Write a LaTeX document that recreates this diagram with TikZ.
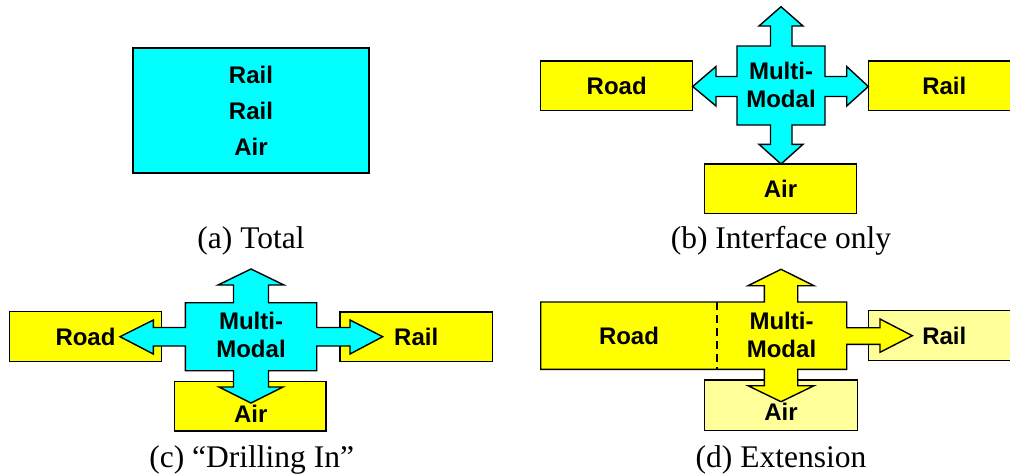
\documentclass[tikz,border=0pt]{standalone}
\usepackage{fontspec}
\setmainfont{Liberation Serif}
\setsansfont{Liberation Sans}
\usepackage{tikz}
\usetikzlibrary{positioning}

\definecolor{mmcyan}{RGB}{0,255,255}
\definecolor{mmyellow}{RGB}{255,255,0}
\definecolor{mmpale}{RGB}{255,255,153}

\tikzset{
    box/.style={draw, line width=1.4pt, inner sep=0pt, outer sep=0pt},
    blockarrow/.style={draw, line width=1.4pt, line join=miter},
    lbl/.style={font=\sffamily\bfseries\fontsize{24}{28}\selectfont, align=center, inner sep=0pt},
    capt/.style={font=\fontsize{31.5}{36}\selectfont, anchor=base, inner sep=0pt}
}

\begin{document}
\begin{tikzpicture}[x=1pt, y=-1pt]
    \useasboundingbox (0,0) rectangle (1010,475);
    \clip (0,0) rectangle (1010,475);

    % (a) total
    \node[box, fill=mmcyan, minimum width=236pt, minimum height=125pt, lbl,
          font=\sffamily\bfseries\fontsize{24}{36}\selectfont] (total) at (251,110.5) {Rail\\Rail\\Air};
    \node[capt] (capa) at (251,248) {(a) Total};

    % (b) interface only
    \node[box, fill=mmyellow, minimum width=152pt, minimum height=49.7pt] (roadb) at (616.7,85.9) {};
    \node[box, fill=mmyellow, minimum width=152pt, minimum height=49.7pt] (railb) at (944.3,85.9) {};
    \node[box, fill=mmyellow, minimum width=152.4pt, minimum height=49.3pt] (airb) at (780.5,188.7) {};
    \draw[blockarrow, fill=mmcyan] (737,46) -- (770.5,46) -- (770.5,26) -- (759,26) -- (781,6.7)
        -- (803,26) -- (792,26) -- (792,46) -- (825,46) -- (825,76.5) -- (846.7,76.5)
        -- (846.7,66.5) -- (868.3,86.5) -- (846.7,106) -- (846.7,96.5) -- (825,96.5)
        -- (825,125) -- (792,125) -- (792,144.3) -- (803,144.3) -- (781,164) -- (759,144.3)
        -- (770.5,144.3) -- (770.5,125) -- (737,125) -- (737,96.5) -- (716,96.5)
        -- (716,106) -- (692.7,86.5) -- (716,66.5) -- (716,76.5) -- (737,76.5) -- cycle;
    \node[lbl] (roadbt) at (roadb) {Road};
    \node[lbl] (railbt) at (railb) {Rail};
    \node[lbl] (airbt) at (airb) {Air};
    \node[lbl] (mmb) at (781,85) {Multi-\\Modal};
    \node[capt] (capb) at (781,248) {(b) Interface only};

    % (c) drilling in
    \node[box, fill=mmyellow, minimum width=152.4pt, minimum height=50pt] (roadc) at (85.5,336.7) {};
    \node[box, fill=mmyellow, minimum width=152.3pt, minimum height=49.7pt] (railc) at (416.2,336.8) {};
    \node[box, fill=mmyellow, minimum width=151.7pt, minimum height=49.3pt] (airc) at (250.2,406.3) {};
    \draw[blockarrow, fill=mmcyan] (185.3,302.7) -- (233.5,302.7) -- (233.5,285) -- (218,285)
        -- (251,269) -- (284,285) -- (268.5,285) -- (268.5,302.7) -- (316.7,302.7)
        -- (316.7,327.5) -- (350,327.5) -- (350,320) -- (382.7,336.7) -- (350,354)
        -- (350,346) -- (316.7,346) -- (316.7,370.7) -- (268.5,370.7) -- (268.5,387)
        -- (283,387) -- (251,403) -- (219,387) -- (233.5,387) -- (233.5,370.7)
        -- (185.3,370.7) -- (185.3,346) -- (153.3,346) -- (153.3,354) -- (120,336.7)
        -- (153.3,320) -- (153.3,327.5) -- (185.3,327.5) -- cycle;
    \node[lbl] (roadct) at (roadc) {Road};
    \node[lbl] (railct) at (railc) {Rail};
    \node[lbl] (airct) at (250.7,413.3) {Air};
    \node[lbl] (mmc) at (251,334.7) {Multi-\\Modal};
    \node[capt] (capc) at (251.7,467.7) {(c) ``Drilling In''};

    % (d) extension
    \node[box, fill=mmpale, minimum width=152pt, minimum height=50pt] (raild) at (944.3,335.7) {};
    \node[box, fill=mmpale, minimum width=153.4pt, minimum height=50.7pt] (aird) at (781,405.3) {};
    \draw[blockarrow, fill=mmyellow] (540.7,302) -- (764.3,302) -- (764.3,285.7) -- (748,285.7)
        -- (781,269.3) -- (814,285.7) -- (797.7,285.7) -- (797.7,302) -- (846.7,302)
        -- (846.7,327.7) -- (880,327.7) -- (880,319) -- (912.3,335.7) -- (880,352.3)
        -- (880,344.3) -- (846.7,344.3) -- (846.7,369.3) -- (797.7,369.3) -- (797.7,385.7)
        -- (814,385.7) -- (781,401.7) -- (748,385.7) -- (764.3,385.7) -- (764.3,369.3)
        -- (540.7,369.3) -- cycle;
    \draw[line width=1.4pt, dash pattern=on 8pt off 5pt] (717,302) -- (717,369.3);
    \node[lbl] (roaddt) at (629,336) {Road};
    \node[lbl] (raildt) at (raild) {Rail};
    \node[lbl] (airdt) at (781,411.7) {Air};
    \node[lbl] (mmd) at (781.5,334.7) {Multi-\\Modal};
    \node[capt] (capd) at (781,467.7) {(d) Extension};
\end{tikzpicture}
\end{document}
